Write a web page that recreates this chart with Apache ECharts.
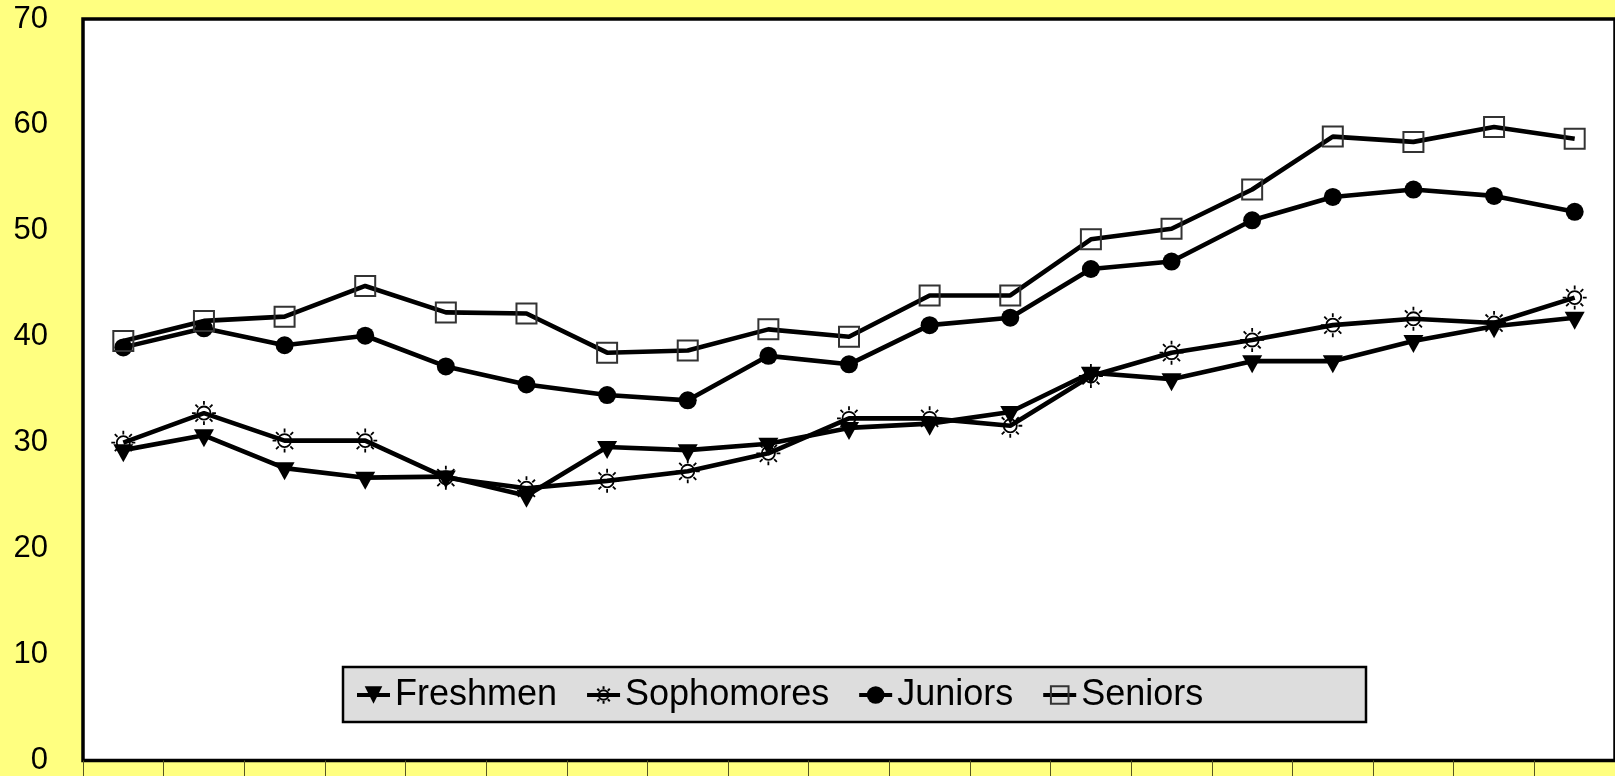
<!DOCTYPE html>
<html>
<head>
<meta charset="utf-8">
<script src="https://cdn.jsdelivr.net/npm/echarts@6/dist/echarts.min.js"></script>
<style>
html,body{margin:0;padding:0;background:#ffff80;}
#chart{width:1615px;height:776px;}
</style>
</head>
<body>
<div id="chart"></div>
<script>
const categories = ['1','2','3','4','5','6','7','8','9','10','11','12','13','14','15','16','17','18','19'];
const freshmen   = [29.3,30.7,27.6,26.7,26.8,25.0,29.6,29.3,29.9,31.4,31.8,32.9,36.6,36.0,37.7,37.7,39.6,41.0,41.8];
const sophomores = [30.0,32.8,30.2,30.2,26.7,25.7,26.4,27.3,29.0,32.3,32.3,31.6,36.3,38.5,39.7,41.1,41.7,41.3,43.7];
const juniors    = [39.0,40.8,39.2,40.1,37.2,35.5,34.5,34.0,38.2,37.4,41.1,41.8,46.4,47.1,51.0,53.2,53.9,53.3,51.8];
const seniors    = [39.6,41.5,41.9,44.8,42.3,42.2,38.5,38.7,40.7,40.0,43.9,43.9,49.2,50.2,53.9,58.9,58.4,59.8,58.7];
const yTicks = {min: 0, max: 70, interval: 10};
const seriesNames = ['Freshmen','Sophomores','Juniors','Seniors'];

const sunPath = 'path://M17,11 A6,6 0 1 1 5,11 A6,6 0 1 1 17,11 Z M11,0 L11,3.5 M11,18.5 L11,22 M0,11 L3.5,11 M18.5,11 L22,11 M3.2,3.2 L5.7,5.7 M16.3,16.3 L18.8,18.8 M18.8,3.2 L16.3,5.7 M3.2,18.8 L5.7,16.3';

const chart = echarts.init(document.getElementById('chart'));
const font = "'Liberation Sans', Arial, sans-serif";
const lineStyle = {color: '#000', width: 4.6};

chart.setOption({
  backgroundColor: '#ffff80',
  animation: false,
  grid: {left: 83, top: 19, right: -4, bottom: 15, show: true, backgroundColor: '#fff', borderColor: '#000', borderWidth: 3.5},
  xAxis: {
    type: 'category', data: categories, boundaryGap: true,
    axisLine: {show: false},
    axisTick: {show: true, length: 20, lineStyle: {color: '#555522', width: 1}},
    axisLabel: {show: false},
    splitLine: {show: false}
  },
  yAxis: {
    type: 'value', min: yTicks.min, max: yTicks.max, interval: yTicks.interval,
    axisLine: {show: false}, axisTick: {show: false}, splitLine: {show: false},
    axisLabel: {color: '#000', fontSize: 31, fontFamily: font, margin: 35}
  },
  graphic: [{
    type: 'rect', z: 3,
    shape: {x: 343, y: 667, width: 1023, height: 55},
    style: {fill: '#dddddd', stroke: '#000', lineWidth: 2.5}
  }],
  legend: {
    z: 5,
    left: 355, top: 676, padding: 0,
    itemWidth: 33, itemHeight: 22, itemGap: 28,
    lineStyle: {width: 4, color: '#000'},
    textStyle: {color: '#000', fontSize: 36, fontFamily: font, lineHeight: 38},
    data: seriesNames
  },
  series: [
    {name: seriesNames[0], type: 'line', data: freshmen, lineStyle: lineStyle,
     symbol: 'triangle', symbolRotate: 180, symbolSize: [20, 18], symbolOffset: [0, 3],
     itemStyle: {color: '#000', borderWidth: 0}},
    {name: seriesNames[1], type: 'line', data: sophomores, lineStyle: lineStyle,
     symbol: sunPath, symbolSize: 24,
     itemStyle: {color: 'rgba(255,255,255,0)', borderColor: '#000', borderWidth: 1.8}},
    {name: seriesNames[2], type: 'line', data: juniors, lineStyle: lineStyle,
     symbol: 'circle', symbolSize: 18,
     itemStyle: {color: '#000', borderWidth: 0}},
    {name: seriesNames[3], type: 'line', data: seniors, lineStyle: lineStyle,
     symbol: 'rect', symbolSize: 20,
     itemStyle: {color: 'rgba(255,255,255,0)', borderColor: '#333', borderWidth: 2}}
  ]
});
</script>
</body>
</html>
